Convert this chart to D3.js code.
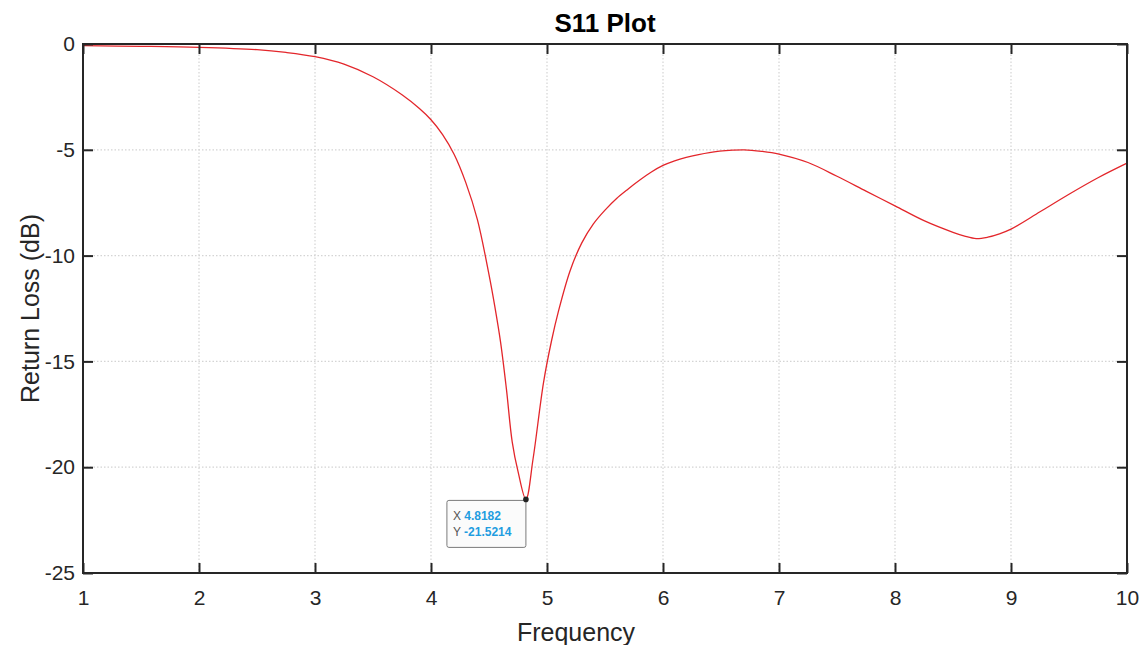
<!DOCTYPE html>
<html><head><meta charset="utf-8">
<script src="https://cdn.jsdelivr.net/npm/d3@7"></script>
<style>body{margin:0;background:#fff;} text{font-family:"Liberation Sans",Arial,sans-serif;}</style>
</head><body><svg id="c" width="1145" height="645"></svg>
<script>
const freq = [1, 1.5, 2, 2.5, 2.75, 3, 3.25, 3.5, 3.75, 3.9, 4, 4.1, 4.2, 4.3, 4.4, 4.5, 4.55, 4.6, 4.65, 4.7, 4.75, 4.8182, 4.88, 4.97, 5.04, 5.1, 5.2, 5.3, 5.4, 5.5, 5.6, 5.7, 5.8, 5.9, 6, 6.1, 6.2, 6.4, 6.6, 6.7, 6.85, 7, 7.25, 7.5, 7.75, 8, 8.25, 8.5, 8.6, 8.7, 8.8, 8.9, 9, 9.25, 9.5, 9.75, 10];
const s11 = [-0.08, -0.11, -0.16, -0.27, -0.4, -0.6, -0.95, -1.55, -2.4, -3.05, -3.58, -4.28, -5.22, -6.55, -8.3, -10.9, -12.4, -14.1, -16.3, -18.8, -20.2, -21.5214, -19.6, -16, -14, -12.6, -10.7, -9.4, -8.5, -7.85, -7.3, -6.85, -6.43, -6.05, -5.74, -5.52, -5.36, -5.13, -5.02, -5.0, -5.07, -5.2, -5.6, -6.25, -6.95, -7.65, -8.35, -8.9, -9.08, -9.2, -9.13, -8.97, -8.75, -7.93, -7.1, -6.32, -5.63];
const xTicks = [1,2,3,4,5,6,7,8,9,10];
const yTicks = [0,-5,-10,-15,-20,-25];
const tipX = 4.8182, tipY = -21.5214;

const svg = d3.select("#c");
const L=83, R=1127, T=44, B=573;
const x = d3.scaleLinear().domain([1,10]).range([L,R]);
const y = d3.scaleLinear().domain([-25,0]).range([B,T]);
const fmt = d => String(d);

// grid
const g = svg.append("g");
g.selectAll(".gx").data(xTicks.slice(1,-1)).enter().append("line")
 .attr("x1",d=>x(d)).attr("x2",d=>x(d)).attr("y1",T).attr("y2",B)
 .attr("stroke","#d4d4d4").attr("stroke-width",1.2).attr("stroke-dasharray","1.5,2");
g.selectAll(".gy").data(yTicks.slice(1,-1)).enter().append("line")
 .attr("y1",d=>y(d)).attr("y2",d=>y(d)).attr("x1",L).attr("x2",R)
 .attr("stroke","#d4d4d4").attr("stroke-width",1.2).attr("stroke-dasharray","1.5,2");

// curve
const line = d3.line().x((d,i)=>x(freq[i])).y(d=>y(d)).curve(d3.curveCatmullRom.alpha(0.5));
svg.append("path").datum(s11).attr("d",line).attr("fill","none")
 .attr("stroke","#e3262b").attr("stroke-width",1.3);

// axes
const axB = d3.axisBottom(x).tickValues(xTicks).tickSize(-10).tickPadding(17).tickFormat(fmt);
const axT = d3.axisTop(x).tickValues(xTicks).tickSize(-10).tickFormat("");
const axL = d3.axisLeft(y).tickValues(yTicks).tickSize(-10).tickPadding(8).tickFormat(fmt);
const axR = d3.axisRight(y).tickValues(yTicks).tickSize(-10).tickFormat("");
function style(sel){
  sel.selectAll("path").attr("stroke","#262626").attr("stroke-width",2);
  sel.selectAll("line").attr("stroke","#262626").attr("stroke-width",2);
  sel.selectAll("text").attr("fill","#262626").style("font-size","21px").style("font-family","Liberation Sans, Arial, sans-serif");
}
svg.append("g").attr("transform",`translate(0,${B})`).call(axB).call(style);
svg.append("g").attr("transform",`translate(0,${T})`).call(axT).call(style);
svg.append("g").attr("transform",`translate(${L},0)`).call(axL).call(style);
svg.append("g").attr("transform",`translate(${R},0)`).call(axR).call(style);
svg.selectAll(".domain").attr("d",null);
svg.append("rect").attr("x",L).attr("y",T).attr("width",R-L).attr("height",B-T)
 .attr("fill","none").attr("stroke","#262626").attr("stroke-width",2);

// labels
svg.append("text").attr("x",(L+R)/2).attr("y",32).attr("text-anchor","middle")
 .style("font-size","26px").style("font-weight","bold").attr("fill","#000").text("S11 Plot");
svg.append("text").attr("x",576).attr("y",641).attr("text-anchor","middle")
 .style("font-size","25px").attr("fill","#262626").text("Frequency");
svg.append("text").attr("transform",`translate(39,${(T+B)/2}) rotate(-90)`).attr("text-anchor","middle")
 .style("font-size","25px").attr("fill","#262626").text("Return Loss (dB)");

// data tip
const px = x(tipX), py = y(tipY);
const tf = d => d3.format(".4f")(d).replace("\u2212","-");
const tip = svg.append("g");
tip.append("rect").attr("x",px-79).attr("y",py+1).attr("width",79).attr("height",47).attr("rx",2)
 .attr("fill","#fbfbfb").attr("stroke","#7a7a7a").attr("stroke-width",1);
const t1 = tip.append("text").attr("x",px-73).attr("y",py+21).style("font-size","12px");
t1.append("tspan").attr("fill","#555").text("X ");
t1.append("tspan").attr("fill","#1f9de0").style("font-weight","bold").text(tf(tipX));
const t2 = tip.append("text").attr("x",px-73).attr("y",py+37).style("font-size","12px");
t2.append("tspan").attr("fill","#555").text("Y ");
t2.append("tspan").attr("fill","#1f9de0").style("font-weight","bold").text(tf(tipY));
tip.append("circle").attr("cx",px).attr("cy",py).attr("r",2.8).attr("fill","#222");
</script></body></html>
